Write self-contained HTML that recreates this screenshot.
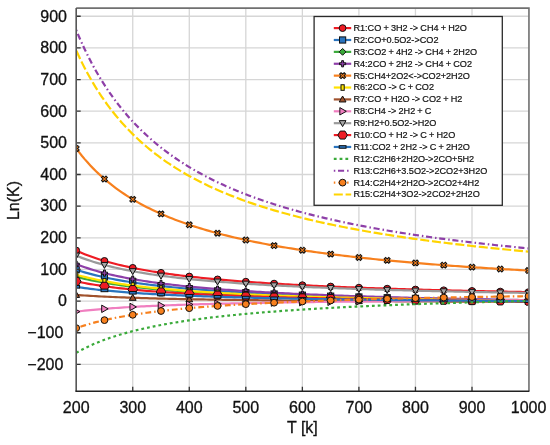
<!DOCTYPE html><html><head><meta charset="utf-8"><style>html,body{margin:0;padding:0;background:#fff;width:550px;height:445px;overflow:hidden}svg{display:block;will-change:transform}</style></head><body><svg width="550" height="445" viewBox="0 0 550 445">
<rect width="550" height="445" fill="#fff"/>
<defs><clipPath id="pc"><rect x="76.19" y="8.1" width="452.35999999999996" height="383.09999999999997"/></clipPath></defs>
<path d="M132.73,8.1 V391.2 M189.28,8.1 V391.2 M245.82,8.1 V391.2 M302.37,8.1 V391.2 M358.91,8.1 V391.2 M415.46,8.1 V391.2 M472.00,8.1 V391.2 M76.19,364.40 H528.55 M76.19,332.75 H528.55 M76.19,301.10 H528.55 M76.19,269.45 H528.55 M76.19,237.80 H528.55 M76.19,206.15 H528.55 M76.19,174.50 H528.55 M76.19,142.85 H528.55 M76.19,111.20 H528.55 M76.19,79.55 H528.55 M76.19,47.90 H528.55 M76.19,16.25 H528.55" stroke="#d6d6d6" stroke-width="1.3" fill="none"/>
<g clip-path="url(#pc)">
<path d="M76.19,250.52 L79.02,251.79 L81.84,253.00 L84.67,254.15 L87.50,255.25 L90.33,256.30 L93.15,257.30 L95.98,258.27 L98.81,259.19 L101.64,260.07 L104.46,260.92 L107.29,261.74 L110.12,262.52 L112.94,263.28 L115.77,264.00 L118.60,264.71 L121.43,265.38 L124.25,266.03 L127.08,266.66 L129.91,267.27 L132.73,267.86 L135.56,268.43 L138.39,268.98 L141.22,269.51 L144.04,270.02 L146.87,270.52 L149.70,271.01 L152.53,271.48 L155.35,271.94 L158.18,272.38 L161.01,272.81 L163.83,273.23 L166.66,273.64 L169.49,274.03 L172.32,274.42 L175.14,274.79 L177.97,275.16 L180.80,275.51 L183.63,275.86 L186.45,276.20 L189.28,276.52 L192.11,276.85 L194.93,277.16 L197.76,277.46 L200.59,277.76 L203.42,278.05 L206.24,278.34 L209.07,278.62 L211.90,278.89 L214.73,279.15 L217.55,279.41 L220.38,279.67 L223.21,279.92 L226.03,280.16 L228.86,280.40 L231.69,280.63 L234.52,280.86 L237.34,281.08 L240.17,281.30 L243.00,281.51 L245.82,281.72 L248.65,281.93 L251.48,282.13 L254.31,282.33 L257.13,282.52 L259.96,282.71 L262.79,282.90 L265.62,283.08 L268.44,283.26 L271.27,283.44 L274.10,283.61 L276.92,283.78 L279.75,283.95 L282.58,284.12 L285.41,284.28 L288.23,284.44 L291.06,284.59 L293.89,284.75 L296.72,284.90 L299.54,285.04 L302.37,285.19 L305.20,285.33 L308.02,285.47 L310.85,285.61 L313.68,285.75 L316.51,285.88 L319.33,286.01 L322.16,286.14 L324.99,286.27 L327.82,286.40 L330.64,286.52 L333.47,286.64 L336.30,286.76 L339.12,286.88 L341.95,287.00 L344.78,287.11 L347.61,287.23 L350.43,287.34 L353.26,287.45 L356.09,287.56 L358.91,287.66 L361.74,287.77 L364.57,287.87 L367.40,287.98 L370.22,288.08 L373.05,288.18 L375.88,288.27 L378.71,288.37 L381.53,288.47 L384.36,288.56 L387.19,288.65 L390.01,288.75 L392.84,288.84 L395.67,288.93 L398.50,289.01 L401.32,289.10 L404.15,289.19 L406.98,289.27 L409.81,289.36 L412.63,289.44 L415.46,289.52 L418.29,289.60 L421.11,289.68 L423.94,289.76 L426.77,289.84 L429.60,289.91 L432.42,289.99 L435.25,290.06 L438.08,290.14 L440.91,290.21 L443.73,290.28 L446.56,290.36 L449.39,290.43 L452.21,290.50 L455.04,290.56 L457.87,290.63 L460.70,290.70 L463.52,290.77 L466.35,290.83 L469.18,290.90 L472.00,290.96 L474.83,291.03 L477.66,291.09 L480.49,291.15 L483.31,291.21 L486.14,291.27 L488.97,291.34 L491.80,291.39 L494.62,291.45 L497.45,291.51 L500.28,291.57 L503.10,291.63 L505.93,291.68 L508.76,291.74 L511.59,291.80 L514.41,291.85 L517.24,291.90 L520.07,291.96 L522.90,292.01 L525.72,292.06 L528.55,292.12" stroke="#ee1c24" stroke-width="2.2" fill="none"/>
<circle cx="76.19" cy="250.52" r="3.40" fill="#ee1c24" stroke="#111" stroke-width="1.0"/>
<circle cx="104.46" cy="260.92" r="3.40" fill="#ee1c24" stroke="#111" stroke-width="1.0"/>
<circle cx="132.73" cy="267.86" r="3.40" fill="#ee1c24" stroke="#111" stroke-width="1.0"/>
<circle cx="161.01" cy="272.81" r="3.40" fill="#ee1c24" stroke="#111" stroke-width="1.0"/>
<circle cx="189.28" cy="276.52" r="3.40" fill="#ee1c24" stroke="#111" stroke-width="1.0"/>
<circle cx="217.55" cy="279.41" r="3.40" fill="#ee1c24" stroke="#111" stroke-width="1.0"/>
<circle cx="245.82" cy="281.72" r="3.40" fill="#ee1c24" stroke="#111" stroke-width="1.0"/>
<circle cx="274.10" cy="283.61" r="3.40" fill="#ee1c24" stroke="#111" stroke-width="1.0"/>
<circle cx="302.37" cy="285.19" r="3.40" fill="#ee1c24" stroke="#111" stroke-width="1.0"/>
<circle cx="330.64" cy="286.52" r="3.40" fill="#ee1c24" stroke="#111" stroke-width="1.0"/>
<circle cx="358.91" cy="287.66" r="3.40" fill="#ee1c24" stroke="#111" stroke-width="1.0"/>
<circle cx="387.19" cy="288.65" r="3.40" fill="#ee1c24" stroke="#111" stroke-width="1.0"/>
<circle cx="415.46" cy="289.52" r="3.40" fill="#ee1c24" stroke="#111" stroke-width="1.0"/>
<circle cx="443.73" cy="290.28" r="3.40" fill="#ee1c24" stroke="#111" stroke-width="1.0"/>
<circle cx="472.00" cy="290.96" r="3.40" fill="#ee1c24" stroke="#111" stroke-width="1.0"/>
<circle cx="500.28" cy="291.57" r="3.40" fill="#ee1c24" stroke="#111" stroke-width="1.0"/>
<circle cx="528.55" cy="292.12" r="3.40" fill="#ee1c24" stroke="#111" stroke-width="1.0"/>
<path d="M76.19,269.66 L79.02,270.59 L81.84,271.48 L84.67,272.33 L87.50,273.13 L90.33,273.90 L93.15,274.64 L95.98,275.35 L98.81,276.03 L101.64,276.68 L104.46,277.30 L107.29,277.90 L110.12,278.48 L112.94,279.03 L115.77,279.56 L118.60,280.08 L121.43,280.58 L124.25,281.06 L127.08,281.52 L129.91,281.97 L132.73,282.40 L135.56,282.82 L138.39,283.22 L141.22,283.61 L144.04,283.99 L146.87,284.36 L149.70,284.72 L152.53,285.06 L155.35,285.40 L158.18,285.73 L161.01,286.04 L163.83,286.35 L166.66,286.65 L169.49,286.94 L172.32,287.23 L175.14,287.50 L177.97,287.77 L180.80,288.03 L183.63,288.29 L186.45,288.54 L189.28,288.78 L192.11,289.02 L194.93,289.25 L197.76,289.47 L200.59,289.69 L203.42,289.91 L206.24,290.12 L209.07,290.32 L211.90,290.52 L214.73,290.72 L217.55,290.91 L220.38,291.10 L223.21,291.28 L226.03,291.46 L228.86,291.64 L231.69,291.81 L234.52,291.98 L237.34,292.14 L240.17,292.30 L243.00,292.46 L245.82,292.62 L248.65,292.77 L251.48,292.92 L254.31,293.06 L257.13,293.21 L259.96,293.35 L262.79,293.49 L265.62,293.62 L268.44,293.76 L271.27,293.89 L274.10,294.01 L276.92,294.14 L279.75,294.26 L282.58,294.39 L285.41,294.51 L288.23,294.62 L291.06,294.74 L293.89,294.85 L296.72,294.96 L299.54,295.07 L302.37,295.18 L305.20,295.29 L308.02,295.39 L310.85,295.49 L313.68,295.59 L316.51,295.69 L319.33,295.79 L322.16,295.89 L324.99,295.98 L327.82,296.08 L330.64,296.17 L333.47,296.26 L336.30,296.35 L339.12,296.44 L341.95,296.52 L344.78,296.61 L347.61,296.69 L350.43,296.77 L353.26,296.86 L356.09,296.94 L358.91,297.02 L361.74,297.09 L364.57,297.17 L367.40,297.25 L370.22,297.32 L373.05,297.40 L375.88,297.47 L378.71,297.54 L381.53,297.61 L384.36,297.68 L387.19,297.75 L390.01,297.82 L392.84,297.89 L395.67,297.95 L398.50,298.02 L401.32,298.08 L404.15,298.15 L406.98,298.21 L409.81,298.27 L412.63,298.34 L415.46,298.40 L418.29,298.46 L421.11,298.52 L423.94,298.57 L426.77,298.63 L429.60,298.69 L432.42,298.75 L435.25,298.80 L438.08,298.86 L440.91,298.91 L443.73,298.96 L446.56,299.02 L449.39,299.07 L452.21,299.12 L455.04,299.17 L457.87,299.23 L460.70,299.28 L463.52,299.33 L466.35,299.37 L469.18,299.42 L472.00,299.47 L474.83,299.52 L477.66,299.57 L480.49,299.61 L483.31,299.66 L486.14,299.70 L488.97,299.75 L491.80,299.79 L494.62,299.84 L497.45,299.88 L500.28,299.92 L503.10,299.97 L505.93,300.01 L508.76,300.05 L511.59,300.09 L514.41,300.13 L517.24,300.17 L520.07,300.22 L522.90,300.25 L525.72,300.29 L528.55,300.33" stroke="#2a74be" stroke-width="2.2" fill="none"/>
<rect x="73.09" y="266.56" width="6.20" height="6.20" fill="#2a74be" stroke="#111" stroke-width="1.0"/>
<rect x="101.36" y="274.20" width="6.20" height="6.20" fill="#2a74be" stroke="#111" stroke-width="1.0"/>
<rect x="129.63" y="279.30" width="6.20" height="6.20" fill="#2a74be" stroke="#111" stroke-width="1.0"/>
<rect x="157.91" y="282.94" width="6.20" height="6.20" fill="#2a74be" stroke="#111" stroke-width="1.0"/>
<rect x="186.18" y="285.68" width="6.20" height="6.20" fill="#2a74be" stroke="#111" stroke-width="1.0"/>
<rect x="214.45" y="287.81" width="6.20" height="6.20" fill="#2a74be" stroke="#111" stroke-width="1.0"/>
<rect x="242.72" y="289.52" width="6.20" height="6.20" fill="#2a74be" stroke="#111" stroke-width="1.0"/>
<rect x="271.00" y="290.91" width="6.20" height="6.20" fill="#2a74be" stroke="#111" stroke-width="1.0"/>
<rect x="299.27" y="292.08" width="6.20" height="6.20" fill="#2a74be" stroke="#111" stroke-width="1.0"/>
<rect x="327.54" y="293.07" width="6.20" height="6.20" fill="#2a74be" stroke="#111" stroke-width="1.0"/>
<rect x="355.81" y="293.92" width="6.20" height="6.20" fill="#2a74be" stroke="#111" stroke-width="1.0"/>
<rect x="384.09" y="294.65" width="6.20" height="6.20" fill="#2a74be" stroke="#111" stroke-width="1.0"/>
<rect x="412.36" y="295.30" width="6.20" height="6.20" fill="#2a74be" stroke="#111" stroke-width="1.0"/>
<rect x="440.63" y="295.86" width="6.20" height="6.20" fill="#2a74be" stroke="#111" stroke-width="1.0"/>
<rect x="468.90" y="296.37" width="6.20" height="6.20" fill="#2a74be" stroke="#111" stroke-width="1.0"/>
<rect x="497.18" y="296.82" width="6.20" height="6.20" fill="#2a74be" stroke="#111" stroke-width="1.0"/>
<rect x="525.45" y="297.23" width="6.20" height="6.20" fill="#2a74be" stroke="#111" stroke-width="1.0"/>
<path d="M76.19,276.72 L79.02,277.45 L81.84,278.15 L84.67,278.82 L87.50,279.45 L90.33,280.06 L93.15,280.64 L95.98,281.19 L98.81,281.73 L101.64,282.24 L104.46,282.73 L107.29,283.20 L110.12,283.65 L112.94,284.09 L115.77,284.51 L118.60,284.91 L121.43,285.30 L124.25,285.68 L127.08,286.04 L129.91,286.40 L132.73,286.74 L135.56,287.06 L138.39,287.38 L141.22,287.69 L144.04,287.99 L146.87,288.28 L149.70,288.56 L152.53,288.83 L155.35,289.09 L158.18,289.35 L161.01,289.60 L163.83,289.84 L166.66,290.07 L169.49,290.30 L172.32,290.53 L175.14,290.74 L177.97,290.95 L180.80,291.16 L183.63,291.36 L186.45,291.55 L189.28,291.74 L192.11,291.93 L194.93,292.11 L197.76,292.29 L200.59,292.46 L203.42,292.63 L206.24,292.79 L209.07,292.95 L211.90,293.11 L214.73,293.26 L217.55,293.41 L220.38,293.56 L223.21,293.70 L226.03,293.84 L228.86,293.98 L231.69,294.12 L234.52,294.25 L237.34,294.38 L240.17,294.50 L243.00,294.63 L245.82,294.75 L248.65,294.87 L251.48,294.98 L254.31,295.10 L257.13,295.21 L259.96,295.32 L262.79,295.43 L265.62,295.53 L268.44,295.64 L271.27,295.74 L274.10,295.84 L276.92,295.94 L279.75,296.04 L282.58,296.13 L285.41,296.22 L288.23,296.32 L291.06,296.41 L293.89,296.49 L296.72,296.58 L299.54,296.67 L302.37,296.75 L305.20,296.83 L308.02,296.92 L310.85,297.00 L313.68,297.07 L316.51,297.15 L319.33,297.23 L322.16,297.30 L324.99,297.38 L327.82,297.45 L330.64,297.52 L333.47,297.59 L336.30,297.66 L339.12,297.73 L341.95,297.80 L344.78,297.86 L347.61,297.93 L350.43,297.99 L353.26,298.06 L356.09,298.12 L358.91,298.18 L361.74,298.24 L364.57,298.30 L367.40,298.36 L370.22,298.42 L373.05,298.48 L375.88,298.54 L378.71,298.59 L381.53,298.65 L384.36,298.70 L387.19,298.75 L390.01,298.81 L392.84,298.86 L395.67,298.91 L398.50,298.96 L401.32,299.01 L404.15,299.06 L406.98,299.11 L409.81,299.16 L412.63,299.21 L415.46,299.26 L418.29,299.30 L421.11,299.35 L423.94,299.39 L426.77,299.44 L429.60,299.48 L432.42,299.53 L435.25,299.57 L438.08,299.61 L440.91,299.66 L443.73,299.70 L446.56,299.74 L449.39,299.78 L452.21,299.82 L455.04,299.86 L457.87,299.90 L460.70,299.94 L463.52,299.98 L466.35,300.02 L469.18,300.05 L472.00,300.09 L474.83,300.13 L477.66,300.16 L480.49,300.20 L483.31,300.24 L486.14,300.27 L488.97,300.31 L491.80,300.34 L494.62,300.37 L497.45,300.41 L500.28,300.44 L503.10,300.47 L505.93,300.51 L508.76,300.54 L511.59,300.57 L514.41,300.60 L517.24,300.64 L520.07,300.67 L522.90,300.70 L525.72,300.73 L528.55,300.76" stroke="#3aaa3a" stroke-width="2.2" fill="none"/>
<path d="M76.19,273.32 L79.59,276.72 L76.19,280.12 L72.79,276.72Z" fill="#3aaa3a" stroke="#111" stroke-width="1.0"/>
<path d="M104.46,279.33 L107.86,282.73 L104.46,286.13 L101.06,282.73Z" fill="#3aaa3a" stroke="#111" stroke-width="1.0"/>
<path d="M132.73,283.34 L136.13,286.74 L132.73,290.14 L129.33,286.74Z" fill="#3aaa3a" stroke="#111" stroke-width="1.0"/>
<path d="M161.01,286.20 L164.41,289.60 L161.01,293.00 L157.61,289.60Z" fill="#3aaa3a" stroke="#111" stroke-width="1.0"/>
<path d="M189.28,288.34 L192.68,291.74 L189.28,295.14 L185.88,291.74Z" fill="#3aaa3a" stroke="#111" stroke-width="1.0"/>
<path d="M217.55,290.01 L220.95,293.41 L217.55,296.81 L214.15,293.41Z" fill="#3aaa3a" stroke="#111" stroke-width="1.0"/>
<path d="M245.82,291.35 L249.22,294.75 L245.82,298.15 L242.42,294.75Z" fill="#3aaa3a" stroke="#111" stroke-width="1.0"/>
<path d="M274.10,292.44 L277.50,295.84 L274.10,299.24 L270.70,295.84Z" fill="#3aaa3a" stroke="#111" stroke-width="1.0"/>
<path d="M302.37,293.35 L305.77,296.75 L302.37,300.15 L298.97,296.75Z" fill="#3aaa3a" stroke="#111" stroke-width="1.0"/>
<path d="M330.64,294.12 L334.04,297.52 L330.64,300.92 L327.24,297.52Z" fill="#3aaa3a" stroke="#111" stroke-width="1.0"/>
<path d="M358.91,294.78 L362.31,298.18 L358.91,301.58 L355.51,298.18Z" fill="#3aaa3a" stroke="#111" stroke-width="1.0"/>
<path d="M387.19,295.35 L390.59,298.75 L387.19,302.15 L383.79,298.75Z" fill="#3aaa3a" stroke="#111" stroke-width="1.0"/>
<path d="M415.46,295.86 L418.86,299.26 L415.46,302.66 L412.06,299.26Z" fill="#3aaa3a" stroke="#111" stroke-width="1.0"/>
<path d="M443.73,296.30 L447.13,299.70 L443.73,303.10 L440.33,299.70Z" fill="#3aaa3a" stroke="#111" stroke-width="1.0"/>
<path d="M472.00,296.69 L475.40,300.09 L472.00,303.49 L468.60,300.09Z" fill="#3aaa3a" stroke="#111" stroke-width="1.0"/>
<path d="M500.28,297.04 L503.68,300.44 L500.28,303.84 L496.88,300.44Z" fill="#3aaa3a" stroke="#111" stroke-width="1.0"/>
<path d="M528.55,297.36 L531.95,300.76 L528.55,304.16 L525.15,300.76Z" fill="#3aaa3a" stroke="#111" stroke-width="1.0"/>
<path d="M76.19,264.07 L79.02,265.17 L81.84,266.21 L84.67,267.21 L87.50,268.16 L90.33,269.08 L93.15,269.95 L95.98,270.78 L98.81,271.58 L101.64,272.35 L104.46,273.08 L107.29,273.79 L110.12,274.47 L112.94,275.12 L115.77,275.75 L118.60,276.36 L121.43,276.95 L124.25,277.51 L127.08,278.06 L129.91,278.58 L132.73,279.09 L135.56,279.58 L138.39,280.06 L141.22,280.52 L144.04,280.97 L146.87,281.40 L149.70,281.82 L152.53,282.23 L155.35,282.63 L158.18,283.01 L161.01,283.38 L163.83,283.75 L166.66,284.10 L169.49,284.44 L172.32,284.78 L175.14,285.10 L177.97,285.42 L180.80,285.73 L183.63,286.03 L186.45,286.32 L189.28,286.60 L192.11,286.88 L194.93,287.15 L197.76,287.42 L200.59,287.68 L203.42,287.93 L206.24,288.18 L209.07,288.42 L211.90,288.65 L214.73,288.88 L217.55,289.11 L220.38,289.33 L223.21,289.54 L226.03,289.75 L228.86,289.96 L231.69,290.16 L234.52,290.36 L237.34,290.55 L240.17,290.74 L243.00,290.93 L245.82,291.11 L248.65,291.29 L251.48,291.46 L254.31,291.64 L257.13,291.80 L259.96,291.97 L262.79,292.13 L265.62,292.29 L268.44,292.45 L271.27,292.60 L274.10,292.75 L276.92,292.90 L279.75,293.04 L282.58,293.19 L285.41,293.33 L288.23,293.46 L291.06,293.60 L293.89,293.73 L296.72,293.86 L299.54,293.99 L302.37,294.12 L305.20,294.24 L308.02,294.36 L310.85,294.48 L313.68,294.60 L316.51,294.72 L319.33,294.83 L322.16,294.94 L324.99,295.05 L327.82,295.16 L330.64,295.27 L333.47,295.38 L336.30,295.48 L339.12,295.58 L341.95,295.69 L344.78,295.79 L347.61,295.88 L350.43,295.98 L353.26,296.08 L356.09,296.17 L358.91,296.26 L361.74,296.35 L364.57,296.44 L367.40,296.53 L370.22,296.62 L373.05,296.71 L375.88,296.79 L378.71,296.88 L381.53,296.96 L384.36,297.04 L387.19,297.12 L390.01,297.20 L392.84,297.28 L395.67,297.36 L398.50,297.43 L401.32,297.51 L404.15,297.58 L406.98,297.66 L409.81,297.73 L412.63,297.80 L415.46,297.87 L418.29,297.94 L421.11,298.01 L423.94,298.08 L426.77,298.15 L429.60,298.21 L432.42,298.28 L435.25,298.34 L438.08,298.41 L440.91,298.47 L443.73,298.53 L446.56,298.60 L449.39,298.66 L452.21,298.72 L455.04,298.78 L457.87,298.84 L460.70,298.90 L463.52,298.95 L466.35,299.01 L469.18,299.07 L472.00,299.12 L474.83,299.18 L477.66,299.23 L480.49,299.29 L483.31,299.34 L486.14,299.39 L488.97,299.45 L491.80,299.50 L494.62,299.55 L497.45,299.60 L500.28,299.65 L503.10,299.70 L505.93,299.75 L508.76,299.80 L511.59,299.85 L514.41,299.89 L517.24,299.94 L520.07,299.99 L522.90,300.03 L525.72,300.08 L528.55,300.13" stroke="#8e3fa8" stroke-width="2.2" fill="none"/>
<path d="M75.24,260.97 H77.14 V263.12 H79.29 V265.02 H77.14 V267.17 H75.24 V265.02 H73.09 V263.12 H75.24Z" fill="#8e3fa8" stroke="#111" stroke-width="1.0"/>
<path d="M103.51,269.98 H105.41 V272.13 H107.56 V274.03 H105.41 V276.18 H103.51 V274.03 H101.36 V272.13 H103.51Z" fill="#8e3fa8" stroke="#111" stroke-width="1.0"/>
<path d="M131.78,275.99 H133.68 V278.14 H135.83 V280.04 H133.68 V282.19 H131.78 V280.04 H129.63 V278.14 H131.78Z" fill="#8e3fa8" stroke="#111" stroke-width="1.0"/>
<path d="M160.06,280.28 H161.96 V282.43 H164.11 V284.33 H161.96 V286.48 H160.06 V284.33 H157.91 V282.43 H160.06Z" fill="#8e3fa8" stroke="#111" stroke-width="1.0"/>
<path d="M188.33,283.50 H190.23 V285.65 H192.38 V287.55 H190.23 V289.70 H188.33 V287.55 H186.18 V285.65 H188.33Z" fill="#8e3fa8" stroke="#111" stroke-width="1.0"/>
<path d="M216.60,286.01 H218.50 V288.16 H220.65 V290.06 H218.50 V292.21 H216.60 V290.06 H214.45 V288.16 H216.60Z" fill="#8e3fa8" stroke="#111" stroke-width="1.0"/>
<path d="M244.88,288.01 H246.77 V290.16 H248.92 V292.06 H246.77 V294.21 H244.88 V292.06 H242.72 V290.16 H244.88Z" fill="#8e3fa8" stroke="#111" stroke-width="1.0"/>
<path d="M273.15,289.65 H275.05 V291.80 H277.20 V293.70 H275.05 V295.85 H273.15 V293.70 H271.00 V291.80 H273.15Z" fill="#8e3fa8" stroke="#111" stroke-width="1.0"/>
<path d="M301.42,291.02 H303.32 V293.17 H305.47 V295.07 H303.32 V297.22 H301.42 V295.07 H299.27 V293.17 H301.42Z" fill="#8e3fa8" stroke="#111" stroke-width="1.0"/>
<path d="M329.69,292.17 H331.59 V294.32 H333.74 V296.22 H331.59 V298.37 H329.69 V296.22 H327.54 V294.32 H329.69Z" fill="#8e3fa8" stroke="#111" stroke-width="1.0"/>
<path d="M357.96,293.16 H359.86 V295.31 H362.01 V297.21 H359.86 V299.36 H357.96 V297.21 H355.81 V295.31 H357.96Z" fill="#8e3fa8" stroke="#111" stroke-width="1.0"/>
<path d="M386.24,294.02 H388.14 V296.17 H390.29 V298.07 H388.14 V300.22 H386.24 V298.07 H384.09 V296.17 H386.24Z" fill="#8e3fa8" stroke="#111" stroke-width="1.0"/>
<path d="M414.51,294.77 H416.41 V296.92 H418.56 V298.82 H416.41 V300.97 H414.51 V298.82 H412.36 V296.92 H414.51Z" fill="#8e3fa8" stroke="#111" stroke-width="1.0"/>
<path d="M442.78,295.43 H444.68 V297.58 H446.83 V299.48 H444.68 V301.63 H442.78 V299.48 H440.63 V297.58 H442.78Z" fill="#8e3fa8" stroke="#111" stroke-width="1.0"/>
<path d="M471.05,296.02 H472.95 V298.17 H475.10 V300.07 H472.95 V302.22 H471.05 V300.07 H468.90 V298.17 H471.05Z" fill="#8e3fa8" stroke="#111" stroke-width="1.0"/>
<path d="M499.33,296.55 H501.23 V298.70 H503.38 V300.60 H501.23 V302.75 H499.33 V300.60 H497.18 V298.70 H499.33Z" fill="#8e3fa8" stroke="#111" stroke-width="1.0"/>
<path d="M527.60,297.03 H529.50 V299.18 H531.65 V301.08 H529.50 V303.23 H527.60 V301.08 H525.45 V299.18 H527.60Z" fill="#8e3fa8" stroke="#111" stroke-width="1.0"/>
<path d="M76.19,148.46 L79.02,152.18 L81.84,155.73 L84.67,159.11 L87.50,162.33 L90.33,165.42 L93.15,168.37 L95.98,171.19 L98.81,173.90 L101.64,176.49 L104.46,178.98 L107.29,181.38 L110.12,183.68 L112.94,185.89 L115.77,188.03 L118.60,190.08 L121.43,192.06 L124.25,193.98 L127.08,195.82 L129.91,197.61 L132.73,199.33 L135.56,201.00 L138.39,202.61 L141.22,204.18 L144.04,205.69 L146.87,207.16 L149.70,208.58 L152.53,209.96 L155.35,211.30 L158.18,212.60 L161.01,213.87 L163.83,215.09 L166.66,216.29 L169.49,217.45 L172.32,218.58 L175.14,219.68 L177.97,220.75 L180.80,221.79 L183.63,222.81 L186.45,223.80 L189.28,224.77 L192.11,225.71 L194.93,226.63 L197.76,227.53 L200.59,228.40 L203.42,229.26 L206.24,230.09 L209.07,230.91 L211.90,231.70 L214.73,232.48 L217.55,233.25 L220.38,233.99 L223.21,234.72 L226.03,235.43 L228.86,236.13 L231.69,236.82 L234.52,237.48 L237.34,238.14 L240.17,238.78 L243.00,239.41 L245.82,240.03 L248.65,240.63 L251.48,241.23 L254.31,241.81 L257.13,242.38 L259.96,242.94 L262.79,243.48 L265.62,244.02 L268.44,244.55 L271.27,245.07 L274.10,245.58 L276.92,246.08 L279.75,246.57 L282.58,247.05 L285.41,247.53 L288.23,247.99 L291.06,248.45 L293.89,248.90 L296.72,249.34 L299.54,249.78 L302.37,250.20 L305.20,250.62 L308.02,251.04 L310.85,251.44 L313.68,251.84 L316.51,252.24 L319.33,252.63 L322.16,253.01 L324.99,253.38 L327.82,253.75 L330.64,254.12 L333.47,254.47 L336.30,254.83 L339.12,255.18 L341.95,255.52 L344.78,255.86 L347.61,256.19 L350.43,256.52 L353.26,256.84 L356.09,257.16 L358.91,257.47 L361.74,257.78 L364.57,258.08 L367.40,258.39 L370.22,258.68 L373.05,258.97 L375.88,259.26 L378.71,259.55 L381.53,259.83 L384.36,260.10 L387.19,260.38 L390.01,260.65 L392.84,260.91 L395.67,261.18 L398.50,261.43 L401.32,261.69 L404.15,261.94 L406.98,262.19 L409.81,262.44 L412.63,262.68 L415.46,262.92 L418.29,263.16 L421.11,263.39 L423.94,263.62 L426.77,263.85 L429.60,264.08 L432.42,264.30 L435.25,264.52 L438.08,264.74 L440.91,264.95 L443.73,265.17 L446.56,265.38 L449.39,265.58 L452.21,265.79 L455.04,265.99 L457.87,266.19 L460.70,266.39 L463.52,266.59 L466.35,266.78 L469.18,266.97 L472.00,267.16 L474.83,267.35 L477.66,267.53 L480.49,267.72 L483.31,267.90 L486.14,268.08 L488.97,268.25 L491.80,268.43 L494.62,268.60 L497.45,268.78 L500.28,268.95 L503.10,269.11 L505.93,269.28 L508.76,269.44 L511.59,269.61 L514.41,269.77 L517.24,269.93 L520.07,270.09 L522.90,270.24 L525.72,270.40 L528.55,270.55" stroke="#f7801e" stroke-width="2.2" fill="none"/>
<path transform="translate(76.19,148.46) rotate(45)" d="M-1.00,-3.20 H1.00 V-1.00 H3.20 V1.00 H1.00 V3.20 H-1.00 V1.00 H-3.20 V-1.00 H-1.00Z" fill="#f7801e" stroke="#111" stroke-width="1.0"/>
<path transform="translate(104.46,178.98) rotate(45)" d="M-1.00,-3.20 H1.00 V-1.00 H3.20 V1.00 H1.00 V3.20 H-1.00 V1.00 H-3.20 V-1.00 H-1.00Z" fill="#f7801e" stroke="#111" stroke-width="1.0"/>
<path transform="translate(132.73,199.33) rotate(45)" d="M-1.00,-3.20 H1.00 V-1.00 H3.20 V1.00 H1.00 V3.20 H-1.00 V1.00 H-3.20 V-1.00 H-1.00Z" fill="#f7801e" stroke="#111" stroke-width="1.0"/>
<path transform="translate(161.01,213.87) rotate(45)" d="M-1.00,-3.20 H1.00 V-1.00 H3.20 V1.00 H1.00 V3.20 H-1.00 V1.00 H-3.20 V-1.00 H-1.00Z" fill="#f7801e" stroke="#111" stroke-width="1.0"/>
<path transform="translate(189.28,224.77) rotate(45)" d="M-1.00,-3.20 H1.00 V-1.00 H3.20 V1.00 H1.00 V3.20 H-1.00 V1.00 H-3.20 V-1.00 H-1.00Z" fill="#f7801e" stroke="#111" stroke-width="1.0"/>
<path transform="translate(217.55,233.25) rotate(45)" d="M-1.00,-3.20 H1.00 V-1.00 H3.20 V1.00 H1.00 V3.20 H-1.00 V1.00 H-3.20 V-1.00 H-1.00Z" fill="#f7801e" stroke="#111" stroke-width="1.0"/>
<path transform="translate(245.82,240.03) rotate(45)" d="M-1.00,-3.20 H1.00 V-1.00 H3.20 V1.00 H1.00 V3.20 H-1.00 V1.00 H-3.20 V-1.00 H-1.00Z" fill="#f7801e" stroke="#111" stroke-width="1.0"/>
<path transform="translate(274.10,245.58) rotate(45)" d="M-1.00,-3.20 H1.00 V-1.00 H3.20 V1.00 H1.00 V3.20 H-1.00 V1.00 H-3.20 V-1.00 H-1.00Z" fill="#f7801e" stroke="#111" stroke-width="1.0"/>
<path transform="translate(302.37,250.20) rotate(45)" d="M-1.00,-3.20 H1.00 V-1.00 H3.20 V1.00 H1.00 V3.20 H-1.00 V1.00 H-3.20 V-1.00 H-1.00Z" fill="#f7801e" stroke="#111" stroke-width="1.0"/>
<path transform="translate(330.64,254.12) rotate(45)" d="M-1.00,-3.20 H1.00 V-1.00 H3.20 V1.00 H1.00 V3.20 H-1.00 V1.00 H-3.20 V-1.00 H-1.00Z" fill="#f7801e" stroke="#111" stroke-width="1.0"/>
<path transform="translate(358.91,257.47) rotate(45)" d="M-1.00,-3.20 H1.00 V-1.00 H3.20 V1.00 H1.00 V3.20 H-1.00 V1.00 H-3.20 V-1.00 H-1.00Z" fill="#f7801e" stroke="#111" stroke-width="1.0"/>
<path transform="translate(387.19,260.38) rotate(45)" d="M-1.00,-3.20 H1.00 V-1.00 H3.20 V1.00 H1.00 V3.20 H-1.00 V1.00 H-3.20 V-1.00 H-1.00Z" fill="#f7801e" stroke="#111" stroke-width="1.0"/>
<path transform="translate(415.46,262.92) rotate(45)" d="M-1.00,-3.20 H1.00 V-1.00 H3.20 V1.00 H1.00 V3.20 H-1.00 V1.00 H-3.20 V-1.00 H-1.00Z" fill="#f7801e" stroke="#111" stroke-width="1.0"/>
<path transform="translate(443.73,265.17) rotate(45)" d="M-1.00,-3.20 H1.00 V-1.00 H3.20 V1.00 H1.00 V3.20 H-1.00 V1.00 H-3.20 V-1.00 H-1.00Z" fill="#f7801e" stroke="#111" stroke-width="1.0"/>
<path transform="translate(472.00,267.16) rotate(45)" d="M-1.00,-3.20 H1.00 V-1.00 H3.20 V1.00 H1.00 V3.20 H-1.00 V1.00 H-3.20 V-1.00 H-1.00Z" fill="#f7801e" stroke="#111" stroke-width="1.0"/>
<path transform="translate(500.28,268.95) rotate(45)" d="M-1.00,-3.20 H1.00 V-1.00 H3.20 V1.00 H1.00 V3.20 H-1.00 V1.00 H-3.20 V-1.00 H-1.00Z" fill="#f7801e" stroke="#111" stroke-width="1.0"/>
<path transform="translate(528.55,270.55) rotate(45)" d="M-1.00,-3.20 H1.00 V-1.00 H3.20 V1.00 H1.00 V3.20 H-1.00 V1.00 H-3.20 V-1.00 H-1.00Z" fill="#f7801e" stroke="#111" stroke-width="1.0"/>
<path d="M76.19,274.65 L79.02,275.45 L81.84,276.21 L84.67,276.93 L87.50,277.62 L90.33,278.28 L93.15,278.92 L95.98,279.52 L98.81,280.10 L101.64,280.66 L104.46,281.19 L107.29,281.70 L110.12,282.19 L112.94,282.67 L115.77,283.13 L118.60,283.57 L121.43,283.99 L124.25,284.40 L127.08,284.80 L129.91,285.18 L132.73,285.55 L135.56,285.90 L138.39,286.25 L141.22,286.58 L144.04,286.91 L146.87,287.22 L149.70,287.53 L152.53,287.82 L155.35,288.11 L158.18,288.39 L161.01,288.66 L163.83,288.92 L166.66,289.18 L169.49,289.43 L172.32,289.67 L175.14,289.91 L177.97,290.13 L180.80,290.36 L183.63,290.58 L186.45,290.79 L189.28,290.99 L192.11,291.20 L194.93,291.39 L197.76,291.59 L200.59,291.77 L203.42,291.96 L206.24,292.13 L209.07,292.31 L211.90,292.48 L214.73,292.65 L217.55,292.81 L220.38,292.97 L223.21,293.13 L226.03,293.28 L228.86,293.43 L231.69,293.58 L234.52,293.72 L237.34,293.86 L240.17,294.00 L243.00,294.13 L245.82,294.26 L248.65,294.39 L251.48,294.52 L254.31,294.64 L257.13,294.77 L259.96,294.89 L262.79,295.00 L265.62,295.12 L268.44,295.23 L271.27,295.34 L274.10,295.45 L276.92,295.56 L279.75,295.66 L282.58,295.77 L285.41,295.87 L288.23,295.97 L291.06,296.07 L293.89,296.16 L296.72,296.26 L299.54,296.35 L302.37,296.44 L305.20,296.53 L308.02,296.62 L310.85,296.71 L313.68,296.79 L316.51,296.88 L319.33,296.96 L322.16,297.04 L324.99,297.12 L327.82,297.20 L330.64,297.28 L333.47,297.36 L336.30,297.43 L339.12,297.51 L341.95,297.58 L344.78,297.65 L347.61,297.72 L350.43,297.79 L353.26,297.86 L356.09,297.93 L358.91,298.00 L361.74,298.06 L364.57,298.13 L367.40,298.19 L370.22,298.26 L373.05,298.32 L375.88,298.38 L378.71,298.44 L381.53,298.50 L384.36,298.56 L387.19,298.62 L390.01,298.68 L392.84,298.74 L395.67,298.79 L398.50,298.85 L401.32,298.90 L404.15,298.96 L406.98,299.01 L409.81,299.06 L412.63,299.11 L415.46,299.17 L418.29,299.22 L421.11,299.27 L423.94,299.32 L426.77,299.37 L429.60,299.41 L432.42,299.46 L435.25,299.51 L438.08,299.56 L440.91,299.60 L443.73,299.65 L446.56,299.69 L449.39,299.74 L452.21,299.78 L455.04,299.82 L457.87,299.87 L460.70,299.91 L463.52,299.95 L466.35,299.99 L469.18,300.03 L472.00,300.07 L474.83,300.11 L477.66,300.15 L480.49,300.19 L483.31,300.23 L486.14,300.27 L488.97,300.31 L491.80,300.35 L494.62,300.38 L497.45,300.42 L500.28,300.46 L503.10,300.49 L505.93,300.53 L508.76,300.56 L511.59,300.60 L514.41,300.63 L517.24,300.67 L520.07,300.70 L522.90,300.73 L525.72,300.77 L528.55,300.80" stroke="#ffe200" stroke-width="2.2" fill="none"/>
<rect x="74.59" y="271.85" width="3.2" height="5.6" fill="#ffe600" stroke="#111" stroke-width="1.0"/>
<rect x="102.86" y="278.39" width="3.2" height="5.6" fill="#ffe600" stroke="#111" stroke-width="1.0"/>
<rect x="131.13" y="282.75" width="3.2" height="5.6" fill="#ffe600" stroke="#111" stroke-width="1.0"/>
<rect x="159.41" y="285.86" width="3.2" height="5.6" fill="#ffe600" stroke="#111" stroke-width="1.0"/>
<rect x="187.68" y="288.19" width="3.2" height="5.6" fill="#ffe600" stroke="#111" stroke-width="1.0"/>
<rect x="215.95" y="290.01" width="3.2" height="5.6" fill="#ffe600" stroke="#111" stroke-width="1.0"/>
<rect x="244.22" y="291.46" width="3.2" height="5.6" fill="#ffe600" stroke="#111" stroke-width="1.0"/>
<rect x="272.50" y="292.65" width="3.2" height="5.6" fill="#ffe600" stroke="#111" stroke-width="1.0"/>
<rect x="300.77" y="293.64" width="3.2" height="5.6" fill="#ffe600" stroke="#111" stroke-width="1.0"/>
<rect x="329.04" y="294.48" width="3.2" height="5.6" fill="#ffe600" stroke="#111" stroke-width="1.0"/>
<rect x="357.31" y="295.20" width="3.2" height="5.6" fill="#ffe600" stroke="#111" stroke-width="1.0"/>
<rect x="385.59" y="295.82" width="3.2" height="5.6" fill="#ffe600" stroke="#111" stroke-width="1.0"/>
<rect x="413.86" y="296.37" width="3.2" height="5.6" fill="#ffe600" stroke="#111" stroke-width="1.0"/>
<rect x="442.13" y="296.85" width="3.2" height="5.6" fill="#ffe600" stroke="#111" stroke-width="1.0"/>
<rect x="470.40" y="297.27" width="3.2" height="5.6" fill="#ffe600" stroke="#111" stroke-width="1.0"/>
<rect x="498.68" y="297.66" width="3.2" height="5.6" fill="#ffe600" stroke="#111" stroke-width="1.0"/>
<rect x="526.95" y="298.00" width="3.2" height="5.6" fill="#ffe600" stroke="#111" stroke-width="1.0"/>
<path d="M76.19,294.90 L79.02,295.11 L81.84,295.31 L84.67,295.50 L87.50,295.68 L90.33,295.86 L93.15,296.02 L95.98,296.18 L98.81,296.34 L101.64,296.48 L104.46,296.62 L107.29,296.76 L110.12,296.89 L112.94,297.02 L115.77,297.14 L118.60,297.25 L121.43,297.37 L124.25,297.47 L127.08,297.58 L129.91,297.68 L132.73,297.78 L135.56,297.87 L138.39,297.96 L141.22,298.05 L144.04,298.14 L146.87,298.22 L149.70,298.30 L152.53,298.38 L155.35,298.46 L158.18,298.53 L161.01,298.60 L163.83,298.67 L166.66,298.74 L169.49,298.80 L172.32,298.87 L175.14,298.93 L177.97,298.99 L180.80,299.05 L183.63,299.11 L186.45,299.16 L189.28,299.22 L192.11,299.27 L194.93,299.32 L197.76,299.37 L200.59,299.42 L203.42,299.47 L206.24,299.52 L209.07,299.57 L211.90,299.61 L214.73,299.66 L217.55,299.70 L220.38,299.74 L223.21,299.78 L226.03,299.82 L228.86,299.86 L231.69,299.90 L234.52,299.94 L237.34,299.98 L240.17,300.01 L243.00,300.05 L245.82,300.08 L248.65,300.12 L251.48,300.15 L254.31,300.18 L257.13,300.22 L259.96,300.25 L262.79,300.28 L265.62,300.31 L268.44,300.34 L271.27,300.37 L274.10,300.40 L276.92,300.43 L279.75,300.45 L282.58,300.48 L285.41,300.51 L288.23,300.53 L291.06,300.56 L293.89,300.59 L296.72,300.61 L299.54,300.64 L302.37,300.66 L305.20,300.68 L308.02,300.71 L310.85,300.73 L313.68,300.75 L316.51,300.77 L319.33,300.80 L322.16,300.82 L324.99,300.84 L327.82,300.86 L330.64,300.88 L333.47,300.90 L336.30,300.92 L339.12,300.94 L341.95,300.96 L344.78,300.98 L347.61,301.00 L350.43,301.02 L353.26,301.04 L356.09,301.05 L358.91,301.07 L361.74,301.09 L364.57,301.11 L367.40,301.12 L370.22,301.14 L373.05,301.16 L375.88,301.17 L378.71,301.19 L381.53,301.20 L384.36,301.22 L387.19,301.24 L390.01,301.25 L392.84,301.27 L395.67,301.28 L398.50,301.30 L401.32,301.31 L404.15,301.32 L406.98,301.34 L409.81,301.35 L412.63,301.37 L415.46,301.38 L418.29,301.39 L421.11,301.41 L423.94,301.42 L426.77,301.43 L429.60,301.45 L432.42,301.46 L435.25,301.47 L438.08,301.48 L440.91,301.50 L443.73,301.51 L446.56,301.52 L449.39,301.53 L452.21,301.54 L455.04,301.55 L457.87,301.57 L460.70,301.58 L463.52,301.59 L466.35,301.60 L469.18,301.61 L472.00,301.62 L474.83,301.63 L477.66,301.64 L480.49,301.65 L483.31,301.66 L486.14,301.67 L488.97,301.68 L491.80,301.69 L494.62,301.70 L497.45,301.71 L500.28,301.72 L503.10,301.73 L505.93,301.74 L508.76,301.75 L511.59,301.76 L514.41,301.77 L517.24,301.78 L520.07,301.79 L522.90,301.79 L525.72,301.80 L528.55,301.81" stroke="#a0522d" stroke-width="2.2" fill="none"/>
<path d="M76.19,291.50 L79.59,297.45 L72.79,297.45Z" fill="#a0522d" stroke="#111" stroke-width="1.0"/>
<path d="M132.73,294.38 L136.13,300.33 L129.33,300.33Z" fill="#a0522d" stroke="#111" stroke-width="1.0"/>
<path d="M189.28,295.82 L192.68,301.77 L185.88,301.77Z" fill="#a0522d" stroke="#111" stroke-width="1.0"/>
<path d="M245.82,296.68 L249.22,302.63 L242.42,302.63Z" fill="#a0522d" stroke="#111" stroke-width="1.0"/>
<path d="M302.37,297.26 L305.77,303.21 L298.97,303.21Z" fill="#a0522d" stroke="#111" stroke-width="1.0"/>
<path d="M358.91,297.67 L362.31,303.62 L355.51,303.62Z" fill="#a0522d" stroke="#111" stroke-width="1.0"/>
<path d="M415.46,297.98 L418.86,303.93 L412.06,303.93Z" fill="#a0522d" stroke="#111" stroke-width="1.0"/>
<path d="M472.00,298.22 L475.40,304.17 L468.60,304.17Z" fill="#a0522d" stroke="#111" stroke-width="1.0"/>
<path d="M528.55,298.41 L531.95,304.36 L525.15,304.36Z" fill="#a0522d" stroke="#111" stroke-width="1.0"/>
<path d="M76.19,311.67 L79.02,311.32 L81.84,310.99 L84.67,310.68 L87.50,310.38 L90.33,310.09 L93.15,309.81 L95.98,309.55 L98.81,309.30 L101.64,309.06 L104.46,308.82 L107.29,308.60 L110.12,308.39 L112.94,308.18 L115.77,307.98 L118.60,307.79 L121.43,307.60 L124.25,307.43 L127.08,307.25 L129.91,307.09 L132.73,306.93 L135.56,306.77 L138.39,306.62 L141.22,306.47 L144.04,306.33 L146.87,306.20 L149.70,306.06 L152.53,305.93 L155.35,305.81 L158.18,305.69 L161.01,305.57 L163.83,305.46 L166.66,305.34 L169.49,305.24 L172.32,305.13 L175.14,305.03 L177.97,304.93 L180.80,304.83 L183.63,304.74 L186.45,304.64 L189.28,304.55 L192.11,304.47 L194.93,304.38 L197.76,304.30 L200.59,304.21 L203.42,304.14 L206.24,304.06 L209.07,303.98 L211.90,303.91 L214.73,303.83 L217.55,303.76 L220.38,303.69 L223.21,303.63 L226.03,303.56 L228.86,303.49 L231.69,303.43 L234.52,303.37 L237.34,303.31 L240.17,303.25 L243.00,303.19 L245.82,303.13 L248.65,303.07 L251.48,303.02 L254.31,302.96 L257.13,302.91 L259.96,302.86 L262.79,302.81 L265.62,302.76 L268.44,302.71 L271.27,302.66 L274.10,302.61 L276.92,302.57 L279.75,302.52 L282.58,302.48 L285.41,302.43 L288.23,302.39 L291.06,302.35 L293.89,302.30 L296.72,302.26 L299.54,302.22 L302.37,302.18 L305.20,302.14 L308.02,302.10 L310.85,302.07 L313.68,302.03 L316.51,301.99 L319.33,301.96 L322.16,301.92 L324.99,301.88 L327.82,301.85 L330.64,301.82 L333.47,301.78 L336.30,301.75 L339.12,301.72 L341.95,301.69 L344.78,301.65 L347.61,301.62 L350.43,301.59 L353.26,301.56 L356.09,301.53 L358.91,301.50 L361.74,301.47 L364.57,301.45 L367.40,301.42 L370.22,301.39 L373.05,301.36 L375.88,301.34 L378.71,301.31 L381.53,301.28 L384.36,301.26 L387.19,301.23 L390.01,301.21 L392.84,301.18 L395.67,301.16 L398.50,301.13 L401.32,301.11 L404.15,301.09 L406.98,301.06 L409.81,301.04 L412.63,301.02 L415.46,301.00 L418.29,300.97 L421.11,300.95 L423.94,300.93 L426.77,300.91 L429.60,300.89 L432.42,300.87 L435.25,300.85 L438.08,300.83 L440.91,300.81 L443.73,300.79 L446.56,300.77 L449.39,300.75 L452.21,300.73 L455.04,300.71 L457.87,300.69 L460.70,300.67 L463.52,300.65 L466.35,300.64 L469.18,300.62 L472.00,300.60 L474.83,300.58 L477.66,300.57 L480.49,300.55 L483.31,300.53 L486.14,300.51 L488.97,300.50 L491.80,300.48 L494.62,300.47 L497.45,300.45 L500.28,300.43 L503.10,300.42 L505.93,300.40 L508.76,300.39 L511.59,300.37 L514.41,300.36 L517.24,300.34 L520.07,300.33 L522.90,300.31 L525.72,300.30 L528.55,300.28" stroke="#f07fc0" stroke-width="2.2" fill="none"/>
<path d="M79.89,311.67 L73.41,315.37 L73.41,307.97Z" fill="#f07fc0" stroke="#111" stroke-width="1.0"/>
<path d="M108.16,308.82 L101.69,312.52 L101.69,305.12Z" fill="#f07fc0" stroke="#111" stroke-width="1.0"/>
<path d="M136.43,306.93 L129.96,310.63 L129.96,303.23Z" fill="#f07fc0" stroke="#111" stroke-width="1.0"/>
<path d="M164.71,305.57 L158.23,309.27 L158.23,301.87Z" fill="#f07fc0" stroke="#111" stroke-width="1.0"/>
<path d="M192.98,304.55 L186.50,308.25 L186.50,300.85Z" fill="#f07fc0" stroke="#111" stroke-width="1.0"/>
<path d="M221.25,303.76 L214.78,307.46 L214.78,300.06Z" fill="#f07fc0" stroke="#111" stroke-width="1.0"/>
<path d="M249.52,303.13 L243.05,306.83 L243.05,299.43Z" fill="#f07fc0" stroke="#111" stroke-width="1.0"/>
<path d="M277.80,302.61 L271.32,306.31 L271.32,298.91Z" fill="#f07fc0" stroke="#111" stroke-width="1.0"/>
<path d="M306.07,302.18 L299.59,305.88 L299.59,298.48Z" fill="#f07fc0" stroke="#111" stroke-width="1.0"/>
<path d="M334.34,301.82 L327.87,305.52 L327.87,298.12Z" fill="#f07fc0" stroke="#111" stroke-width="1.0"/>
<path d="M362.61,301.50 L356.14,305.20 L356.14,297.80Z" fill="#f07fc0" stroke="#111" stroke-width="1.0"/>
<path d="M390.89,301.23 L384.41,304.93 L384.41,297.53Z" fill="#f07fc0" stroke="#111" stroke-width="1.0"/>
<path d="M419.16,301.00 L412.69,304.70 L412.69,297.30Z" fill="#f07fc0" stroke="#111" stroke-width="1.0"/>
<path d="M447.43,300.79 L440.96,304.49 L440.96,297.09Z" fill="#f07fc0" stroke="#111" stroke-width="1.0"/>
<path d="M475.70,300.60 L469.23,304.30 L469.23,296.90Z" fill="#f07fc0" stroke="#111" stroke-width="1.0"/>
<path d="M503.98,300.43 L497.50,304.13 L497.50,296.73Z" fill="#f07fc0" stroke="#111" stroke-width="1.0"/>
<path d="M532.25,300.28 L525.77,303.98 L525.77,296.58Z" fill="#f07fc0" stroke="#111" stroke-width="1.0"/>
<path d="M76.19,255.62 L79.02,256.77 L81.84,257.86 L84.67,258.89 L87.50,259.88 L90.33,260.83 L93.15,261.73 L95.98,262.60 L98.81,263.43 L101.64,264.23 L104.46,264.99 L107.29,265.73 L110.12,266.43 L112.94,267.11 L115.77,267.77 L118.60,268.40 L121.43,269.00 L124.25,269.59 L127.08,270.15 L129.91,270.70 L132.73,271.23 L135.56,271.74 L138.39,272.24 L141.22,272.71 L144.04,273.18 L146.87,273.63 L149.70,274.06 L152.53,274.49 L155.35,274.90 L158.18,275.29 L161.01,275.68 L163.83,276.06 L166.66,276.42 L169.49,276.78 L172.32,277.12 L175.14,277.46 L177.97,277.79 L180.80,278.11 L183.63,278.42 L186.45,278.72 L189.28,279.02 L192.11,279.30 L194.93,279.58 L197.76,279.86 L200.59,280.13 L203.42,280.39 L206.24,280.64 L209.07,280.89 L211.90,281.14 L214.73,281.37 L217.55,281.61 L220.38,281.83 L223.21,282.06 L226.03,282.27 L228.86,282.49 L231.69,282.70 L234.52,282.90 L237.34,283.10 L240.17,283.30 L243.00,283.49 L245.82,283.68 L248.65,283.86 L251.48,284.04 L254.31,284.22 L257.13,284.39 L259.96,284.56 L262.79,284.73 L265.62,284.89 L268.44,285.06 L271.27,285.21 L274.10,285.37 L276.92,285.52 L279.75,285.67 L282.58,285.82 L285.41,285.96 L288.23,286.10 L291.06,286.24 L293.89,286.38 L296.72,286.51 L299.54,286.65 L302.37,286.78 L305.20,286.90 L308.02,287.03 L310.85,287.15 L313.68,287.28 L316.51,287.40 L319.33,287.51 L322.16,287.63 L324.99,287.74 L327.82,287.86 L330.64,287.97 L333.47,288.08 L336.30,288.18 L339.12,288.29 L341.95,288.39 L344.78,288.50 L347.61,288.60 L350.43,288.70 L353.26,288.79 L356.09,288.89 L358.91,288.99 L361.74,289.08 L364.57,289.17 L367.40,289.26 L370.22,289.35 L373.05,289.44 L375.88,289.53 L378.71,289.62 L381.53,289.70 L384.36,289.79 L387.19,289.87 L390.01,289.95 L392.84,290.03 L395.67,290.11 L398.50,290.19 L401.32,290.27 L404.15,290.34 L406.98,290.42 L409.81,290.49 L412.63,290.57 L415.46,290.64 L418.29,290.71 L421.11,290.78 L423.94,290.85 L426.77,290.92 L429.60,290.99 L432.42,291.06 L435.25,291.12 L438.08,291.19 L440.91,291.26 L443.73,291.32 L446.56,291.38 L449.39,291.45 L452.21,291.51 L455.04,291.57 L457.87,291.63 L460.70,291.69 L463.52,291.75 L466.35,291.81 L469.18,291.87 L472.00,291.92 L474.83,291.98 L477.66,292.04 L480.49,292.09 L483.31,292.15 L486.14,292.20 L488.97,292.25 L491.80,292.31 L494.62,292.36 L497.45,292.41 L500.28,292.46 L503.10,292.51 L505.93,292.56 L508.76,292.61 L511.59,292.66 L514.41,292.71 L517.24,292.76 L520.07,292.81 L522.90,292.85 L525.72,292.90 L528.55,292.95" stroke="#9a9a9a" stroke-width="2.2" fill="none"/>
<path d="M76.19,259.02 L79.59,253.07 L72.79,253.07Z" fill="#a6a6a6" stroke="#111" stroke-width="1.0"/>
<path d="M104.46,268.39 L107.86,262.44 L101.06,262.44Z" fill="#a6a6a6" stroke="#111" stroke-width="1.0"/>
<path d="M132.73,274.63 L136.13,268.68 L129.33,268.68Z" fill="#a6a6a6" stroke="#111" stroke-width="1.0"/>
<path d="M161.01,279.08 L164.41,273.13 L157.61,273.13Z" fill="#a6a6a6" stroke="#111" stroke-width="1.0"/>
<path d="M189.28,282.42 L192.68,276.47 L185.88,276.47Z" fill="#a6a6a6" stroke="#111" stroke-width="1.0"/>
<path d="M217.55,285.01 L220.95,279.06 L214.15,279.06Z" fill="#a6a6a6" stroke="#111" stroke-width="1.0"/>
<path d="M245.82,287.08 L249.22,281.13 L242.42,281.13Z" fill="#a6a6a6" stroke="#111" stroke-width="1.0"/>
<path d="M274.10,288.77 L277.50,282.82 L270.70,282.82Z" fill="#a6a6a6" stroke="#111" stroke-width="1.0"/>
<path d="M302.37,290.18 L305.77,284.23 L298.97,284.23Z" fill="#a6a6a6" stroke="#111" stroke-width="1.0"/>
<path d="M330.64,291.37 L334.04,285.42 L327.24,285.42Z" fill="#a6a6a6" stroke="#111" stroke-width="1.0"/>
<path d="M358.91,292.39 L362.31,286.44 L355.51,286.44Z" fill="#a6a6a6" stroke="#111" stroke-width="1.0"/>
<path d="M387.19,293.27 L390.59,287.32 L383.79,287.32Z" fill="#a6a6a6" stroke="#111" stroke-width="1.0"/>
<path d="M415.46,294.04 L418.86,288.09 L412.06,288.09Z" fill="#a6a6a6" stroke="#111" stroke-width="1.0"/>
<path d="M443.73,294.72 L447.13,288.77 L440.33,288.77Z" fill="#a6a6a6" stroke="#111" stroke-width="1.0"/>
<path d="M472.00,295.32 L475.40,289.37 L468.60,289.37Z" fill="#a6a6a6" stroke="#111" stroke-width="1.0"/>
<path d="M500.28,295.86 L503.68,289.91 L496.88,289.91Z" fill="#a6a6a6" stroke="#111" stroke-width="1.0"/>
<path d="M528.55,296.35 L531.95,290.40 L525.15,290.40Z" fill="#a6a6a6" stroke="#111" stroke-width="1.0"/>
<path d="M76.19,281.30 L79.02,281.91 L81.84,282.48 L84.67,283.03 L87.50,283.55 L90.33,284.06 L93.15,284.53 L95.98,284.99 L98.81,285.43 L101.64,285.85 L104.46,286.26 L107.29,286.65 L110.12,287.02 L112.94,287.38 L115.77,287.73 L118.60,288.06 L121.43,288.38 L124.25,288.69 L127.08,288.99 L129.91,289.28 L132.73,289.56 L135.56,289.84 L138.39,290.10 L141.22,290.35 L144.04,290.60 L146.87,290.84 L149.70,291.07 L152.53,291.29 L155.35,291.51 L158.18,291.72 L161.01,291.93 L163.83,292.13 L166.66,292.32 L169.49,292.51 L172.32,292.70 L175.14,292.88 L177.97,293.05 L180.80,293.22 L183.63,293.39 L186.45,293.55 L189.28,293.71 L192.11,293.86 L194.93,294.01 L197.76,294.16 L200.59,294.30 L203.42,294.44 L206.24,294.57 L209.07,294.71 L211.90,294.84 L214.73,294.96 L217.55,295.09 L220.38,295.21 L223.21,295.33 L226.03,295.45 L228.86,295.56 L231.69,295.67 L234.52,295.78 L237.34,295.89 L240.17,295.99 L243.00,296.10 L245.82,296.20 L248.65,296.30 L251.48,296.39 L254.31,296.49 L257.13,296.58 L259.96,296.67 L262.79,296.76 L265.62,296.85 L268.44,296.94 L271.27,297.02 L274.10,297.10 L276.92,297.19 L279.75,297.27 L282.58,297.35 L285.41,297.42 L288.23,297.50 L291.06,297.57 L293.89,297.65 L296.72,297.72 L299.54,297.79 L302.37,297.86 L305.20,297.93 L308.02,298.00 L310.85,298.06 L313.68,298.13 L316.51,298.19 L319.33,298.26 L322.16,298.32 L324.99,298.38 L327.82,298.44 L330.64,298.50 L333.47,298.56 L336.30,298.62 L339.12,298.68 L341.95,298.73 L344.78,298.79 L347.61,298.84 L350.43,298.90 L353.26,298.95 L356.09,299.00 L358.91,299.05 L361.74,299.10 L364.57,299.15 L367.40,299.20 L370.22,299.25 L373.05,299.30 L375.88,299.35 L378.71,299.39 L381.53,299.44 L384.36,299.49 L387.19,299.53 L390.01,299.58 L392.84,299.62 L395.67,299.66 L398.50,299.70 L401.32,299.75 L404.15,299.79 L406.98,299.83 L409.81,299.87 L412.63,299.91 L415.46,299.95 L418.29,299.99 L421.11,300.03 L423.94,300.07 L426.77,300.10 L429.60,300.14 L432.42,300.18 L435.25,300.21 L438.08,300.25 L440.91,300.28 L443.73,300.32 L446.56,300.35 L449.39,300.39 L452.21,300.42 L455.04,300.46 L457.87,300.49 L460.70,300.52 L463.52,300.55 L466.35,300.59 L469.18,300.62 L472.00,300.65 L474.83,300.68 L477.66,300.71 L480.49,300.74 L483.31,300.77 L486.14,300.80 L488.97,300.83 L491.80,300.86 L494.62,300.89 L497.45,300.92 L500.28,300.94 L503.10,300.97 L505.93,301.00 L508.76,301.03 L511.59,301.05 L514.41,301.08 L517.24,301.11 L520.07,301.13 L522.90,301.16 L525.72,301.18 L528.55,301.21" stroke="#ee1c24" stroke-width="2.2" fill="none"/>
<path d="M71.39,281.30 L73.79,277.30 L78.59,277.30 L80.99,281.30 L78.59,285.30 L73.79,285.30Z" fill="#ee1c24" stroke="#111" stroke-width="1.0"/>
<path d="M99.66,286.26 L102.06,282.26 L106.86,282.26 L109.26,286.26 L106.86,290.26 L102.06,290.26Z" fill="#ee1c24" stroke="#111" stroke-width="1.0"/>
<path d="M127.93,289.56 L130.33,285.56 L135.13,285.56 L137.53,289.56 L135.13,293.56 L130.33,293.56Z" fill="#ee1c24" stroke="#111" stroke-width="1.0"/>
<path d="M156.21,291.93 L158.61,287.93 L163.41,287.93 L165.81,291.93 L163.41,295.93 L158.61,295.93Z" fill="#ee1c24" stroke="#111" stroke-width="1.0"/>
<path d="M184.48,293.71 L186.88,289.71 L191.68,289.71 L194.08,293.71 L191.68,297.71 L186.88,297.71Z" fill="#ee1c24" stroke="#111" stroke-width="1.0"/>
<path d="M212.75,295.09 L215.15,291.09 L219.95,291.09 L222.35,295.09 L219.95,299.09 L215.15,299.09Z" fill="#ee1c24" stroke="#111" stroke-width="1.0"/>
<path d="M241.02,296.20 L243.42,292.20 L248.22,292.20 L250.62,296.20 L248.22,300.20 L243.42,300.20Z" fill="#ee1c24" stroke="#111" stroke-width="1.0"/>
<path d="M269.30,297.10 L271.70,293.10 L276.50,293.10 L278.90,297.10 L276.50,301.10 L271.70,301.10Z" fill="#ee1c24" stroke="#111" stroke-width="1.0"/>
<path d="M297.57,297.86 L299.97,293.86 L304.77,293.86 L307.17,297.86 L304.77,301.86 L299.97,301.86Z" fill="#ee1c24" stroke="#111" stroke-width="1.0"/>
<path d="M325.84,298.50 L328.24,294.50 L333.04,294.50 L335.44,298.50 L333.04,302.50 L328.24,302.50Z" fill="#ee1c24" stroke="#111" stroke-width="1.0"/>
<path d="M354.11,299.05 L356.51,295.05 L361.31,295.05 L363.71,299.05 L361.31,303.05 L356.51,303.05Z" fill="#ee1c24" stroke="#111" stroke-width="1.0"/>
<path d="M382.39,299.53 L384.79,295.53 L389.59,295.53 L391.99,299.53 L389.59,303.53 L384.79,303.53Z" fill="#ee1c24" stroke="#111" stroke-width="1.0"/>
<path d="M410.66,299.95 L413.06,295.95 L417.86,295.95 L420.26,299.95 L417.86,303.95 L413.06,303.95Z" fill="#ee1c24" stroke="#111" stroke-width="1.0"/>
<path d="M438.93,300.32 L441.33,296.32 L446.13,296.32 L448.53,300.32 L446.13,304.32 L441.33,304.32Z" fill="#ee1c24" stroke="#111" stroke-width="1.0"/>
<path d="M467.20,300.65 L469.60,296.65 L474.40,296.65 L476.80,300.65 L474.40,304.65 L469.60,304.65Z" fill="#ee1c24" stroke="#111" stroke-width="1.0"/>
<path d="M495.48,300.94 L497.88,296.94 L502.68,296.94 L505.08,300.94 L502.68,304.94 L497.88,304.94Z" fill="#ee1c24" stroke="#111" stroke-width="1.0"/>
<path d="M523.75,301.21 L526.15,297.21 L530.95,297.21 L533.35,301.21 L530.95,305.21 L526.15,305.21Z" fill="#ee1c24" stroke="#111" stroke-width="1.0"/>
<path d="M76.19,286.80 L79.02,287.24 L81.84,287.65 L84.67,288.05 L87.50,288.43 L90.33,288.80 L93.15,289.14 L95.98,289.48 L98.81,289.79 L101.64,290.10 L104.46,290.39 L107.29,290.68 L110.12,290.95 L112.94,291.21 L115.77,291.46 L118.60,291.70 L121.43,291.93 L124.25,292.16 L127.08,292.38 L129.91,292.59 L132.73,292.79 L135.56,292.99 L138.39,293.18 L141.22,293.36 L144.04,293.54 L146.87,293.71 L149.70,293.88 L152.53,294.04 L155.35,294.20 L158.18,294.35 L161.01,294.50 L163.83,294.65 L166.66,294.79 L169.49,294.92 L172.32,295.06 L175.14,295.19 L177.97,295.31 L180.80,295.44 L183.63,295.56 L186.45,295.67 L189.28,295.79 L192.11,295.90 L194.93,296.01 L197.76,296.11 L200.59,296.21 L203.42,296.32 L206.24,296.41 L209.07,296.51 L211.90,296.60 L214.73,296.70 L217.55,296.79 L220.38,296.87 L223.21,296.96 L226.03,297.04 L228.86,297.13 L231.69,297.21 L234.52,297.28 L237.34,297.36 L240.17,297.44 L243.00,297.51 L245.82,297.58 L248.65,297.66 L251.48,297.73 L254.31,297.79 L257.13,297.86 L259.96,297.93 L262.79,297.99 L265.62,298.05 L268.44,298.12 L271.27,298.18 L274.10,298.24 L276.92,298.30 L279.75,298.35 L282.58,298.41 L285.41,298.47 L288.23,298.52 L291.06,298.58 L293.89,298.63 L296.72,298.68 L299.54,298.73 L302.37,298.78 L305.20,298.83 L308.02,298.88 L310.85,298.93 L313.68,298.98 L316.51,299.02 L319.33,299.07 L322.16,299.11 L324.99,299.16 L327.82,299.20 L330.64,299.24 L333.47,299.29 L336.30,299.33 L339.12,299.37 L341.95,299.41 L344.78,299.45 L347.61,299.49 L350.43,299.53 L353.26,299.56 L356.09,299.60 L358.91,299.64 L361.74,299.68 L364.57,299.71 L367.40,299.75 L370.22,299.78 L373.05,299.82 L375.88,299.85 L378.71,299.88 L381.53,299.92 L384.36,299.95 L387.19,299.98 L390.01,300.01 L392.84,300.04 L395.67,300.08 L398.50,300.11 L401.32,300.14 L404.15,300.17 L406.98,300.20 L409.81,300.22 L412.63,300.25 L415.46,300.28 L418.29,300.31 L421.11,300.34 L423.94,300.36 L426.77,300.39 L429.60,300.42 L432.42,300.44 L435.25,300.47 L438.08,300.49 L440.91,300.52 L443.73,300.55 L446.56,300.57 L449.39,300.59 L452.21,300.62 L455.04,300.64 L457.87,300.67 L460.70,300.69 L463.52,300.71 L466.35,300.74 L469.18,300.76 L472.00,300.78 L474.83,300.80 L477.66,300.82 L480.49,300.85 L483.31,300.87 L486.14,300.89 L488.97,300.91 L491.80,300.93 L494.62,300.95 L497.45,300.97 L500.28,300.99 L503.10,301.01 L505.93,301.03 L508.76,301.05 L511.59,301.07 L514.41,301.09 L517.24,301.11 L520.07,301.13 L522.90,301.14 L525.72,301.16 L528.55,301.18" stroke="#2a74be" stroke-width="2.2" fill="none"/>
<rect x="72.79" y="285.50" width="6.8" height="2.6" fill="#2a74be" stroke="#111" stroke-width="1.0"/>
<rect x="101.06" y="289.09" width="6.8" height="2.6" fill="#2a74be" stroke="#111" stroke-width="1.0"/>
<rect x="129.33" y="291.49" width="6.8" height="2.6" fill="#2a74be" stroke="#111" stroke-width="1.0"/>
<rect x="157.61" y="293.20" width="6.8" height="2.6" fill="#2a74be" stroke="#111" stroke-width="1.0"/>
<rect x="185.88" y="294.49" width="6.8" height="2.6" fill="#2a74be" stroke="#111" stroke-width="1.0"/>
<rect x="214.15" y="295.49" width="6.8" height="2.6" fill="#2a74be" stroke="#111" stroke-width="1.0"/>
<rect x="242.42" y="296.28" width="6.8" height="2.6" fill="#2a74be" stroke="#111" stroke-width="1.0"/>
<rect x="270.70" y="296.94" width="6.8" height="2.6" fill="#2a74be" stroke="#111" stroke-width="1.0"/>
<rect x="298.97" y="297.48" width="6.8" height="2.6" fill="#2a74be" stroke="#111" stroke-width="1.0"/>
<rect x="327.24" y="297.94" width="6.8" height="2.6" fill="#2a74be" stroke="#111" stroke-width="1.0"/>
<rect x="355.51" y="298.34" width="6.8" height="2.6" fill="#2a74be" stroke="#111" stroke-width="1.0"/>
<rect x="383.79" y="298.68" width="6.8" height="2.6" fill="#2a74be" stroke="#111" stroke-width="1.0"/>
<rect x="412.06" y="298.98" width="6.8" height="2.6" fill="#2a74be" stroke="#111" stroke-width="1.0"/>
<rect x="440.33" y="299.25" width="6.8" height="2.6" fill="#2a74be" stroke="#111" stroke-width="1.0"/>
<rect x="468.60" y="299.48" width="6.8" height="2.6" fill="#2a74be" stroke="#111" stroke-width="1.0"/>
<rect x="496.88" y="299.69" width="6.8" height="2.6" fill="#2a74be" stroke="#111" stroke-width="1.0"/>
<rect x="525.15" y="299.88" width="6.8" height="2.6" fill="#2a74be" stroke="#111" stroke-width="1.0"/>
<path d="M76.19,352.79 L79.02,351.21 L81.84,349.70 L84.67,348.27 L87.50,346.89 L90.33,345.58 L93.15,344.33 L95.98,343.13 L98.81,341.98 L101.64,340.88 L104.46,339.82 L107.29,338.80 L110.12,337.83 L112.94,336.88 L115.77,335.98 L118.60,335.11 L121.43,334.26 L124.25,333.45 L127.08,332.67 L129.91,331.91 L132.73,331.18 L135.56,330.47 L138.39,329.78 L141.22,329.12 L144.04,328.47 L146.87,327.85 L149.70,327.25 L152.53,326.66 L155.35,326.09 L158.18,325.54 L161.01,325.00 L163.83,324.48 L166.66,323.97 L169.49,323.48 L172.32,323.00 L175.14,322.53 L177.97,322.08 L180.80,321.63 L183.63,321.20 L186.45,320.78 L189.28,320.37 L192.11,319.97 L194.93,319.58 L197.76,319.20 L200.59,318.82 L203.42,318.46 L206.24,318.11 L209.07,317.76 L211.90,317.42 L214.73,317.09 L217.55,316.77 L220.38,316.45 L223.21,316.14 L226.03,315.84 L228.86,315.54 L231.69,315.25 L234.52,314.97 L237.34,314.69 L240.17,314.41 L243.00,314.15 L245.82,313.88 L248.65,313.63 L251.48,313.38 L254.31,313.13 L257.13,312.89 L259.96,312.65 L262.79,312.42 L265.62,312.19 L268.44,311.96 L271.27,311.74 L274.10,311.53 L276.92,311.31 L279.75,311.11 L282.58,310.90 L285.41,310.70 L288.23,310.50 L291.06,310.31 L293.89,310.12 L296.72,309.93 L299.54,309.74 L302.37,309.56 L305.20,309.38 L308.02,309.21 L310.85,309.03 L313.68,308.86 L316.51,308.70 L319.33,308.53 L322.16,308.37 L324.99,308.21 L327.82,308.05 L330.64,307.90 L333.47,307.75 L336.30,307.60 L339.12,307.45 L341.95,307.30 L344.78,307.16 L347.61,307.02 L350.43,306.88 L353.26,306.74 L356.09,306.61 L358.91,306.47 L361.74,306.34 L364.57,306.21 L367.40,306.09 L370.22,305.96 L373.05,305.84 L375.88,305.71 L378.71,305.59 L381.53,305.47 L384.36,305.36 L387.19,305.24 L390.01,305.12 L392.84,305.01 L395.67,304.90 L398.50,304.79 L401.32,304.68 L404.15,304.57 L406.98,304.47 L409.81,304.36 L412.63,304.26 L415.46,304.16 L418.29,304.06 L421.11,303.96 L423.94,303.86 L426.77,303.76 L429.60,303.67 L432.42,303.57 L435.25,303.48 L438.08,303.39 L440.91,303.30 L443.73,303.20 L446.56,303.12 L449.39,303.03 L452.21,302.94 L455.04,302.85 L457.87,302.77 L460.70,302.68 L463.52,302.60 L466.35,302.52 L469.18,302.44 L472.00,302.36 L474.83,302.28 L477.66,302.20 L480.49,302.12 L483.31,302.04 L486.14,301.97 L488.97,301.89 L491.80,301.82 L494.62,301.74 L497.45,301.67 L500.28,301.60 L503.10,301.53 L505.93,301.46 L508.76,301.39 L511.59,301.32 L514.41,301.25 L517.24,301.18 L520.07,301.11 L522.90,301.05 L525.72,300.98 L528.55,300.92" stroke="#3aaa3a" stroke-width="2.2" fill="none" stroke-dasharray="2.8 3.0"/>
<path d="M76.19,30.04 L79.02,36.75 L81.84,43.13 L84.67,49.21 L87.50,55.02 L90.33,60.56 L93.15,65.87 L95.98,70.95 L98.81,75.81 L101.64,80.48 L104.46,84.96 L107.29,89.26 L110.12,93.40 L112.94,97.38 L115.77,101.21 L118.60,104.90 L121.43,108.46 L124.25,111.89 L127.08,115.21 L129.91,118.41 L132.73,121.50 L135.56,124.50 L138.39,127.39 L141.22,130.20 L144.04,132.91 L146.87,135.54 L149.70,138.09 L152.53,140.57 L155.35,142.97 L158.18,145.30 L161.01,147.57 L163.83,149.77 L166.66,151.91 L169.49,153.99 L172.32,156.01 L175.14,157.98 L177.97,159.90 L180.80,161.76 L183.63,163.58 L186.45,165.35 L189.28,167.08 L192.11,168.77 L194.93,170.41 L197.76,172.01 L200.59,173.58 L203.42,175.11 L206.24,176.60 L209.07,178.06 L211.90,179.48 L214.73,180.87 L217.55,182.23 L220.38,183.57 L223.21,184.87 L226.03,186.14 L228.86,187.39 L231.69,188.61 L234.52,189.80 L237.34,190.97 L240.17,192.12 L243.00,193.24 L245.82,194.34 L248.65,195.41 L251.48,196.47 L254.31,197.51 L257.13,198.52 L259.96,199.52 L262.79,200.49 L265.62,201.45 L268.44,202.39 L271.27,203.32 L274.10,204.22 L276.92,205.11 L279.75,205.99 L282.58,206.84 L285.41,207.69 L288.23,208.52 L291.06,209.33 L293.89,210.13 L296.72,210.91 L299.54,211.69 L302.37,212.45 L305.20,213.19 L308.02,213.93 L310.85,214.65 L313.68,215.36 L316.51,216.06 L319.33,216.75 L322.16,217.43 L324.99,218.09 L327.82,218.75 L330.64,219.39 L333.47,220.03 L336.30,220.66 L339.12,221.27 L341.95,221.88 L344.78,222.48 L347.61,223.07 L350.43,223.65 L353.26,224.22 L356.09,224.78 L358.91,225.34 L361.74,225.89 L364.57,226.43 L367.40,226.96 L370.22,227.48 L373.05,228.00 L375.88,228.51 L378.71,229.01 L381.53,229.51 L384.36,230.00 L387.19,230.48 L390.01,230.96 L392.84,231.43 L395.67,231.89 L398.50,232.35 L401.32,232.80 L404.15,233.25 L406.98,233.69 L409.81,234.12 L412.63,234.55 L415.46,234.98 L418.29,235.40 L421.11,235.81 L423.94,236.22 L426.77,236.62 L429.60,237.02 L432.42,237.41 L435.25,237.80 L438.08,238.18 L440.91,238.56 L443.73,238.94 L446.56,239.31 L449.39,239.67 L452.21,240.03 L455.04,240.39 L457.87,240.74 L460.70,241.09 L463.52,241.44 L466.35,241.78 L469.18,242.11 L472.00,242.45 L474.83,242.78 L477.66,243.10 L480.49,243.43 L483.31,243.74 L486.14,244.06 L488.97,244.37 L491.80,244.68 L494.62,244.99 L497.45,245.29 L500.28,245.59 L503.10,245.88 L505.93,246.17 L508.76,246.46 L511.59,246.75 L514.41,247.03 L517.24,247.31 L520.07,247.59 L522.90,247.86 L525.72,248.14 L528.55,248.40" stroke="#8e3fa8" stroke-width="2.2" fill="none" stroke-dasharray="1.5 2.7 6.1 2.984"/>
<path d="M76.19,328.12 L79.02,327.14 L81.84,326.22 L84.67,325.33 L87.50,324.49 L90.33,323.68 L93.15,322.91 L95.98,322.17 L98.81,321.46 L101.64,320.78 L104.46,320.13 L107.29,319.51 L110.12,318.90 L112.94,318.32 L115.77,317.77 L118.60,317.23 L121.43,316.71 L124.25,316.21 L127.08,315.73 L129.91,315.26 L132.73,314.81 L135.56,314.37 L138.39,313.95 L141.22,313.54 L144.04,313.14 L146.87,312.76 L149.70,312.39 L152.53,312.03 L155.35,311.68 L158.18,311.33 L161.01,311.00 L163.83,310.68 L166.66,310.37 L169.49,310.07 L172.32,309.77 L175.14,309.48 L177.97,309.20 L180.80,308.93 L183.63,308.66 L186.45,308.40 L189.28,308.15 L192.11,307.91 L194.93,307.66 L197.76,307.43 L200.59,307.20 L203.42,306.98 L206.24,306.76 L209.07,306.55 L211.90,306.34 L214.73,306.13 L217.55,305.93 L220.38,305.74 L223.21,305.55 L226.03,305.36 L228.86,305.18 L231.69,305.00 L234.52,304.82 L237.34,304.65 L240.17,304.48 L243.00,304.32 L245.82,304.16 L248.65,304.00 L251.48,303.85 L254.31,303.69 L257.13,303.54 L259.96,303.40 L262.79,303.25 L265.62,303.11 L268.44,302.98 L271.27,302.84 L274.10,302.71 L276.92,302.58 L279.75,302.45 L282.58,302.32 L285.41,302.20 L288.23,302.07 L291.06,301.96 L293.89,301.84 L296.72,301.72 L299.54,301.61 L302.37,301.50 L305.20,301.39 L308.02,301.28 L310.85,301.17 L313.68,301.07 L316.51,300.96 L319.33,300.86 L322.16,300.76 L324.99,300.66 L327.82,300.57 L330.64,300.47 L333.47,300.38 L336.30,300.29 L339.12,300.20 L341.95,300.11 L344.78,300.02 L347.61,299.93 L350.43,299.84 L353.26,299.76 L356.09,299.68 L358.91,299.59 L361.74,299.51 L364.57,299.43 L367.40,299.36 L370.22,299.28 L373.05,299.20 L375.88,299.13 L378.71,299.05 L381.53,298.98 L384.36,298.91 L387.19,298.83 L390.01,298.76 L392.84,298.69 L395.67,298.63 L398.50,298.56 L401.32,298.49 L404.15,298.42 L406.98,298.36 L409.81,298.29 L412.63,298.23 L415.46,298.17 L418.29,298.11 L421.11,298.05 L423.94,297.98 L426.77,297.92 L429.60,297.87 L432.42,297.81 L435.25,297.75 L438.08,297.69 L440.91,297.64 L443.73,297.58 L446.56,297.53 L449.39,297.47 L452.21,297.42 L455.04,297.37 L457.87,297.31 L460.70,297.26 L463.52,297.21 L466.35,297.16 L469.18,297.11 L472.00,297.06 L474.83,297.01 L477.66,296.96 L480.49,296.91 L483.31,296.87 L486.14,296.82 L488.97,296.77 L491.80,296.73 L494.62,296.68 L497.45,296.64 L500.28,296.59 L503.10,296.55 L505.93,296.50 L508.76,296.46 L511.59,296.42 L514.41,296.38 L517.24,296.33 L520.07,296.29 L522.90,296.25 L525.72,296.21 L528.55,296.17" stroke="#f7801e" stroke-width="2.2" fill="none" stroke-dasharray="1.5 3 5.8 3"/>
<circle cx="76.19" cy="328.12" r="3.40" fill="#f7801e" stroke="#111" stroke-width="1.0"/>
<circle cx="104.46" cy="320.13" r="3.40" fill="#f7801e" stroke="#111" stroke-width="1.0"/>
<circle cx="132.73" cy="314.81" r="3.40" fill="#f7801e" stroke="#111" stroke-width="1.0"/>
<circle cx="161.01" cy="311.00" r="3.40" fill="#f7801e" stroke="#111" stroke-width="1.0"/>
<circle cx="189.28" cy="308.15" r="3.40" fill="#f7801e" stroke="#111" stroke-width="1.0"/>
<circle cx="217.55" cy="305.93" r="3.40" fill="#f7801e" stroke="#111" stroke-width="1.0"/>
<circle cx="245.82" cy="304.16" r="3.40" fill="#f7801e" stroke="#111" stroke-width="1.0"/>
<circle cx="274.10" cy="302.71" r="3.40" fill="#f7801e" stroke="#111" stroke-width="1.0"/>
<circle cx="302.37" cy="301.50" r="3.40" fill="#f7801e" stroke="#111" stroke-width="1.0"/>
<circle cx="330.64" cy="300.47" r="3.40" fill="#f7801e" stroke="#111" stroke-width="1.0"/>
<circle cx="358.91" cy="299.59" r="3.40" fill="#f7801e" stroke="#111" stroke-width="1.0"/>
<circle cx="387.19" cy="298.83" r="3.40" fill="#f7801e" stroke="#111" stroke-width="1.0"/>
<circle cx="415.46" cy="298.17" r="3.40" fill="#f7801e" stroke="#111" stroke-width="1.0"/>
<circle cx="443.73" cy="297.58" r="3.40" fill="#f7801e" stroke="#111" stroke-width="1.0"/>
<circle cx="472.00" cy="297.06" r="3.40" fill="#f7801e" stroke="#111" stroke-width="1.0"/>
<circle cx="500.28" cy="296.59" r="3.40" fill="#f7801e" stroke="#111" stroke-width="1.0"/>
<circle cx="528.55" cy="296.17" r="3.40" fill="#f7801e" stroke="#111" stroke-width="1.0"/>
<path d="M76.19,50.42 L79.02,56.54 L81.84,62.37 L84.67,67.93 L87.50,73.24 L90.33,78.31 L93.15,83.16 L95.98,87.81 L98.81,92.26 L101.64,96.53 L104.46,100.63 L107.29,104.57 L110.12,108.36 L112.94,112.01 L115.77,115.52 L118.60,118.90 L121.43,122.16 L124.25,125.31 L127.08,128.35 L129.91,131.29 L132.73,134.13 L135.56,136.87 L138.39,139.53 L141.22,142.10 L144.04,144.60 L146.87,147.01 L149.70,149.36 L152.53,151.63 L155.35,153.84 L158.18,155.98 L161.01,158.06 L163.83,160.08 L166.66,162.05 L169.49,163.96 L172.32,165.82 L175.14,167.64 L177.97,169.40 L180.80,171.12 L183.63,172.79 L186.45,174.43 L189.28,176.02 L192.11,177.57 L194.93,179.08 L197.76,180.56 L200.59,182.01 L203.42,183.41 L206.24,184.79 L209.07,186.14 L211.90,187.45 L214.73,188.74 L217.55,189.99 L220.38,191.22 L223.21,192.42 L226.03,193.60 L228.86,194.75 L231.69,195.88 L234.52,196.98 L237.34,198.06 L240.17,199.12 L243.00,200.16 L245.82,201.18 L248.65,202.17 L251.48,203.15 L254.31,204.11 L257.13,205.05 L259.96,205.97 L262.79,206.87 L265.62,207.76 L268.44,208.63 L271.27,209.49 L274.10,210.33 L276.92,211.15 L279.75,211.96 L282.58,212.76 L285.41,213.54 L288.23,214.31 L291.06,215.07 L293.89,215.81 L296.72,216.54 L299.54,217.26 L302.37,217.96 L305.20,218.66 L308.02,219.34 L310.85,220.01 L313.68,220.67 L316.51,221.32 L319.33,221.96 L322.16,222.59 L324.99,223.21 L327.82,223.82 L330.64,224.42 L333.47,225.01 L336.30,225.60 L339.12,226.17 L341.95,226.74 L344.78,227.29 L347.61,227.84 L350.43,228.38 L353.26,228.92 L356.09,229.44 L358.91,229.96 L361.74,230.47 L364.57,230.98 L367.40,231.47 L370.22,231.96 L373.05,232.45 L375.88,232.92 L378.71,233.39 L381.53,233.86 L384.36,234.31 L387.19,234.76 L390.01,235.21 L392.84,235.65 L395.67,236.08 L398.50,236.51 L401.32,236.93 L404.15,237.35 L406.98,237.76 L409.81,238.17 L412.63,238.57 L415.46,238.97 L418.29,239.36 L421.11,239.75 L423.94,240.13 L426.77,240.51 L429.60,240.88 L432.42,241.25 L435.25,241.61 L438.08,241.97 L440.91,242.33 L443.73,242.68 L446.56,243.03 L449.39,243.37 L452.21,243.71 L455.04,244.05 L457.87,244.38 L460.70,244.71 L463.52,245.03 L466.35,245.35 L469.18,245.67 L472.00,245.98 L474.83,246.29 L477.66,246.60 L480.49,246.90 L483.31,247.20 L486.14,247.50 L488.97,247.79 L491.80,248.08 L494.62,248.37 L497.45,248.65 L500.28,248.94 L503.10,249.21 L505.93,249.49 L508.76,249.76 L511.59,250.03 L514.41,250.30 L517.24,250.56 L520.07,250.83 L522.90,251.09 L525.72,251.34 L528.55,251.60" stroke="#ffd400" stroke-width="2.2" fill="none" stroke-dasharray="9 2.79" stroke-dashoffset="-0.44"/>
</g>
<path d="M76.19,364.40 h4.5 M76.19,332.75 h4.5 M76.19,301.10 h4.5 M76.19,269.45 h4.5 M76.19,237.80 h4.5 M76.19,206.15 h4.5 M76.19,174.50 h4.5 M76.19,142.85 h4.5 M76.19,111.20 h4.5 M76.19,79.55 h4.5 M76.19,47.90 h4.5 M76.19,16.25 h4.5 M132.73,391.2 v-4.5 M189.28,391.2 v-4.5 M245.82,391.2 v-4.5 M302.37,391.2 v-4.5 M358.91,391.2 v-4.5 M415.46,391.2 v-4.5 M472.00,391.2 v-4.5" stroke="#333" stroke-width="1.3" fill="none"/>
<path d="M76.19,8.1 H528.9499999999999 V391.2" stroke="#707070" stroke-width="1.6" fill="none"/>
<path d="M76.19,8.1 V391.2" stroke="#555" stroke-width="1.6" fill="none"/>
<path d="M75.39,391.2 H529.3499999999999" stroke="#222" stroke-width="1.4" fill="none"/>
<g font-family="Liberation Sans, sans-serif" font-size="16" fill="#111" stroke="#111" stroke-width="0.3">
<text x="63.39" y="369.70" text-anchor="end">−200</text>
<text x="63.39" y="338.05" text-anchor="end">−100</text>
<text x="66.99" y="306.40" text-anchor="end">0</text>
<text x="66.99" y="274.75" text-anchor="end">100</text>
<text x="66.99" y="243.10" text-anchor="end">200</text>
<text x="66.99" y="211.45" text-anchor="end">300</text>
<text x="66.99" y="179.80" text-anchor="end">400</text>
<text x="66.99" y="148.15" text-anchor="end">500</text>
<text x="66.99" y="116.50" text-anchor="end">600</text>
<text x="66.99" y="84.85" text-anchor="end">700</text>
<text x="66.99" y="53.20" text-anchor="end">800</text>
<text x="66.99" y="21.55" text-anchor="end">900</text>
<text x="76.19" y="412.90" text-anchor="middle">200</text>
<text x="132.73" y="412.90" text-anchor="middle">300</text>
<text x="189.28" y="412.90" text-anchor="middle">400</text>
<text x="245.82" y="412.90" text-anchor="middle">500</text>
<text x="302.37" y="412.90" text-anchor="middle">600</text>
<text x="358.91" y="412.90" text-anchor="middle">700</text>
<text x="415.46" y="412.90" text-anchor="middle">800</text>
<text x="472.00" y="412.90" text-anchor="middle">900</text>
<text x="528.55" y="412.90" text-anchor="middle">1000</text>
<text x="302.37" y="433.1" text-anchor="middle">T [k]</text>
<text transform="translate(18.5,200.5) rotate(-90)" text-anchor="middle">Ln(K)</text>
</g>
<rect x="314.1" y="16.5" width="188.20" height="188.80" fill="#fff" stroke="#2a2a2a" stroke-width="1.3"/>
<path d="M333.8,28.10 H351.2" stroke="#ee1c24" stroke-width="2.2" fill="none"/>
<circle cx="342.60" cy="28.10" r="3.40" fill="#ee1c24" stroke="#111" stroke-width="1.0"/>
<text x="353.4" y="31.05" font-family="Liberation Sans, sans-serif" font-size="9.12" word-spacing="-0.36" fill="#111" stroke="#111" stroke-width="0.2">R1:CO + 3H2 -&gt; CH4 + H2O</text>
<path d="M333.8,39.99 H351.2" stroke="#2a74be" stroke-width="2.2" fill="none"/>
<rect x="339.50" y="36.89" width="6.20" height="6.20" fill="#2a74be" stroke="#111" stroke-width="1.0"/>
<text x="353.4" y="42.94" font-family="Liberation Sans, sans-serif" font-size="9.12" word-spacing="-0.36" fill="#111" stroke="#111" stroke-width="0.2">R2:CO+0.5O2-&gt;CO2</text>
<path d="M333.8,51.87 H351.2" stroke="#3aaa3a" stroke-width="2.2" fill="none"/>
<path d="M342.60,48.47 L346.00,51.87 L342.60,55.27 L339.20,51.87Z" fill="#3aaa3a" stroke="#111" stroke-width="1.0"/>
<text x="353.4" y="54.82" font-family="Liberation Sans, sans-serif" font-size="9.12" word-spacing="-0.36" fill="#111" stroke="#111" stroke-width="0.2">R3:CO2 + 4H2 -&gt; CH4 + 2H2O</text>
<path d="M333.8,63.76 H351.2" stroke="#8e3fa8" stroke-width="2.2" fill="none"/>
<path d="M341.65,60.66 H343.55 V62.81 H345.70 V64.71 H343.55 V66.86 H341.65 V64.71 H339.50 V62.81 H341.65Z" fill="#8e3fa8" stroke="#111" stroke-width="1.0"/>
<text x="353.4" y="66.71" font-family="Liberation Sans, sans-serif" font-size="9.12" word-spacing="-0.36" fill="#111" stroke="#111" stroke-width="0.2">R4:2CO + 2H2 -&gt; CH4 + CO2</text>
<path d="M333.8,75.64 H351.2" stroke="#f7801e" stroke-width="2.2" fill="none"/>
<path transform="translate(342.60,75.64) rotate(45)" d="M-1.00,-3.20 H1.00 V-1.00 H3.20 V1.00 H1.00 V3.20 H-1.00 V1.00 H-3.20 V-1.00 H-1.00Z" fill="#f7801e" stroke="#111" stroke-width="1.0"/>
<text x="353.4" y="78.59" font-family="Liberation Sans, sans-serif" font-size="9.12" word-spacing="-0.36" fill="#111" stroke="#111" stroke-width="0.2">R5:CH4+2O2&lt;-&gt;CO2+2H2O</text>
<path d="M333.8,87.53 H351.2" stroke="#ffe200" stroke-width="2.2" fill="none"/>
<rect x="341.00" y="84.73" width="3.2" height="5.6" fill="#ffe600" stroke="#111" stroke-width="1.0"/>
<text x="353.4" y="90.48" font-family="Liberation Sans, sans-serif" font-size="9.12" word-spacing="-0.36" fill="#111" stroke="#111" stroke-width="0.2">R6:2CO -&gt; C + CO2</text>
<path d="M333.8,99.42 H351.2" stroke="#a0522d" stroke-width="2.2" fill="none"/>
<path d="M342.60,96.02 L346.00,101.97 L339.20,101.97Z" fill="#a0522d" stroke="#111" stroke-width="1.0"/>
<text x="353.4" y="102.37" font-family="Liberation Sans, sans-serif" font-size="9.12" word-spacing="-0.36" fill="#111" stroke="#111" stroke-width="0.2">R7:CO + H2O -&gt; CO2 + H2</text>
<path d="M333.8,111.30 H351.2" stroke="#f07fc0" stroke-width="2.2" fill="none"/>
<path d="M346.30,111.30 L339.83,115.00 L339.83,107.60Z" fill="#f07fc0" stroke="#111" stroke-width="1.0"/>
<text x="353.4" y="114.25" font-family="Liberation Sans, sans-serif" font-size="9.12" word-spacing="-0.36" fill="#111" stroke="#111" stroke-width="0.2">R8:CH4 -&gt; 2H2 + C</text>
<path d="M333.8,123.19 H351.2" stroke="#9a9a9a" stroke-width="2.2" fill="none"/>
<path d="M342.60,126.59 L346.00,120.64 L339.20,120.64Z" fill="#a6a6a6" stroke="#111" stroke-width="1.0"/>
<text x="353.4" y="126.14" font-family="Liberation Sans, sans-serif" font-size="9.12" word-spacing="-0.36" fill="#111" stroke="#111" stroke-width="0.2">R9:H2+0.5O2-&gt;H2O</text>
<path d="M333.8,135.07 H351.2" stroke="#ee1c24" stroke-width="2.2" fill="none"/>
<path d="M337.80,135.07 L340.20,131.07 L345.00,131.07 L347.40,135.07 L345.00,139.07 L340.20,139.07Z" fill="#ee1c24" stroke="#111" stroke-width="1.0"/>
<text x="353.4" y="138.02" font-family="Liberation Sans, sans-serif" font-size="9.12" word-spacing="-0.36" fill="#111" stroke="#111" stroke-width="0.2">R10:CO + H2 -&gt; C + H2O</text>
<path d="M333.8,146.96 H351.2" stroke="#2a74be" stroke-width="2.2" fill="none"/>
<rect x="339.20" y="145.66" width="6.8" height="2.6" fill="#2a74be" stroke="#111" stroke-width="1.0"/>
<text x="353.4" y="149.91" font-family="Liberation Sans, sans-serif" font-size="9.12" word-spacing="-0.36" fill="#111" stroke="#111" stroke-width="0.2">R11:CO2 + 2H2 -&gt; C + 2H2O</text>
<path d="M333.8,158.85 H351.2" stroke="#3aaa3a" stroke-width="2.2" stroke-dasharray="2.8 3.0" fill="none"/>
<text x="353.4" y="161.80" font-family="Liberation Sans, sans-serif" font-size="9.12" word-spacing="-0.36" fill="#111" stroke="#111" stroke-width="0.2">R12:C2H6+2H2O-&gt;2CO+5H2</text>
<path d="M333.8,170.73 H351.2" stroke="#8e3fa8" stroke-width="2.2" stroke-dasharray="1.5 2.7 6.1 2.984" fill="none"/>
<text x="353.4" y="173.68" font-family="Liberation Sans, sans-serif" font-size="9.12" word-spacing="-0.36" fill="#111" stroke="#111" stroke-width="0.2">R13:C2H6+3.5O2-&gt;2CO2+3H2O</text>
<path d="M333.8,182.62 H351.2" stroke="#f7801e" stroke-width="2.2" stroke-dasharray="1.5 3 5.8 3" fill="none"/>
<circle cx="342.60" cy="182.62" r="3.40" fill="#f7801e" stroke="#111" stroke-width="1.0"/>
<text x="353.4" y="185.57" font-family="Liberation Sans, sans-serif" font-size="9.12" word-spacing="-0.36" fill="#111" stroke="#111" stroke-width="0.2">R14:C2H4+2H2O-&gt;2CO2+4H2</text>
<path d="M333.8,194.50 H351.2" stroke="#ffd400" stroke-width="2.2" stroke-dasharray="9 2.79" fill="none"/>
<text x="353.4" y="197.45" font-family="Liberation Sans, sans-serif" font-size="9.12" word-spacing="-0.36" fill="#111" stroke="#111" stroke-width="0.2">R15:C2H4+3O2-&gt;2CO2+2H2O</text>
</svg></body></html>
